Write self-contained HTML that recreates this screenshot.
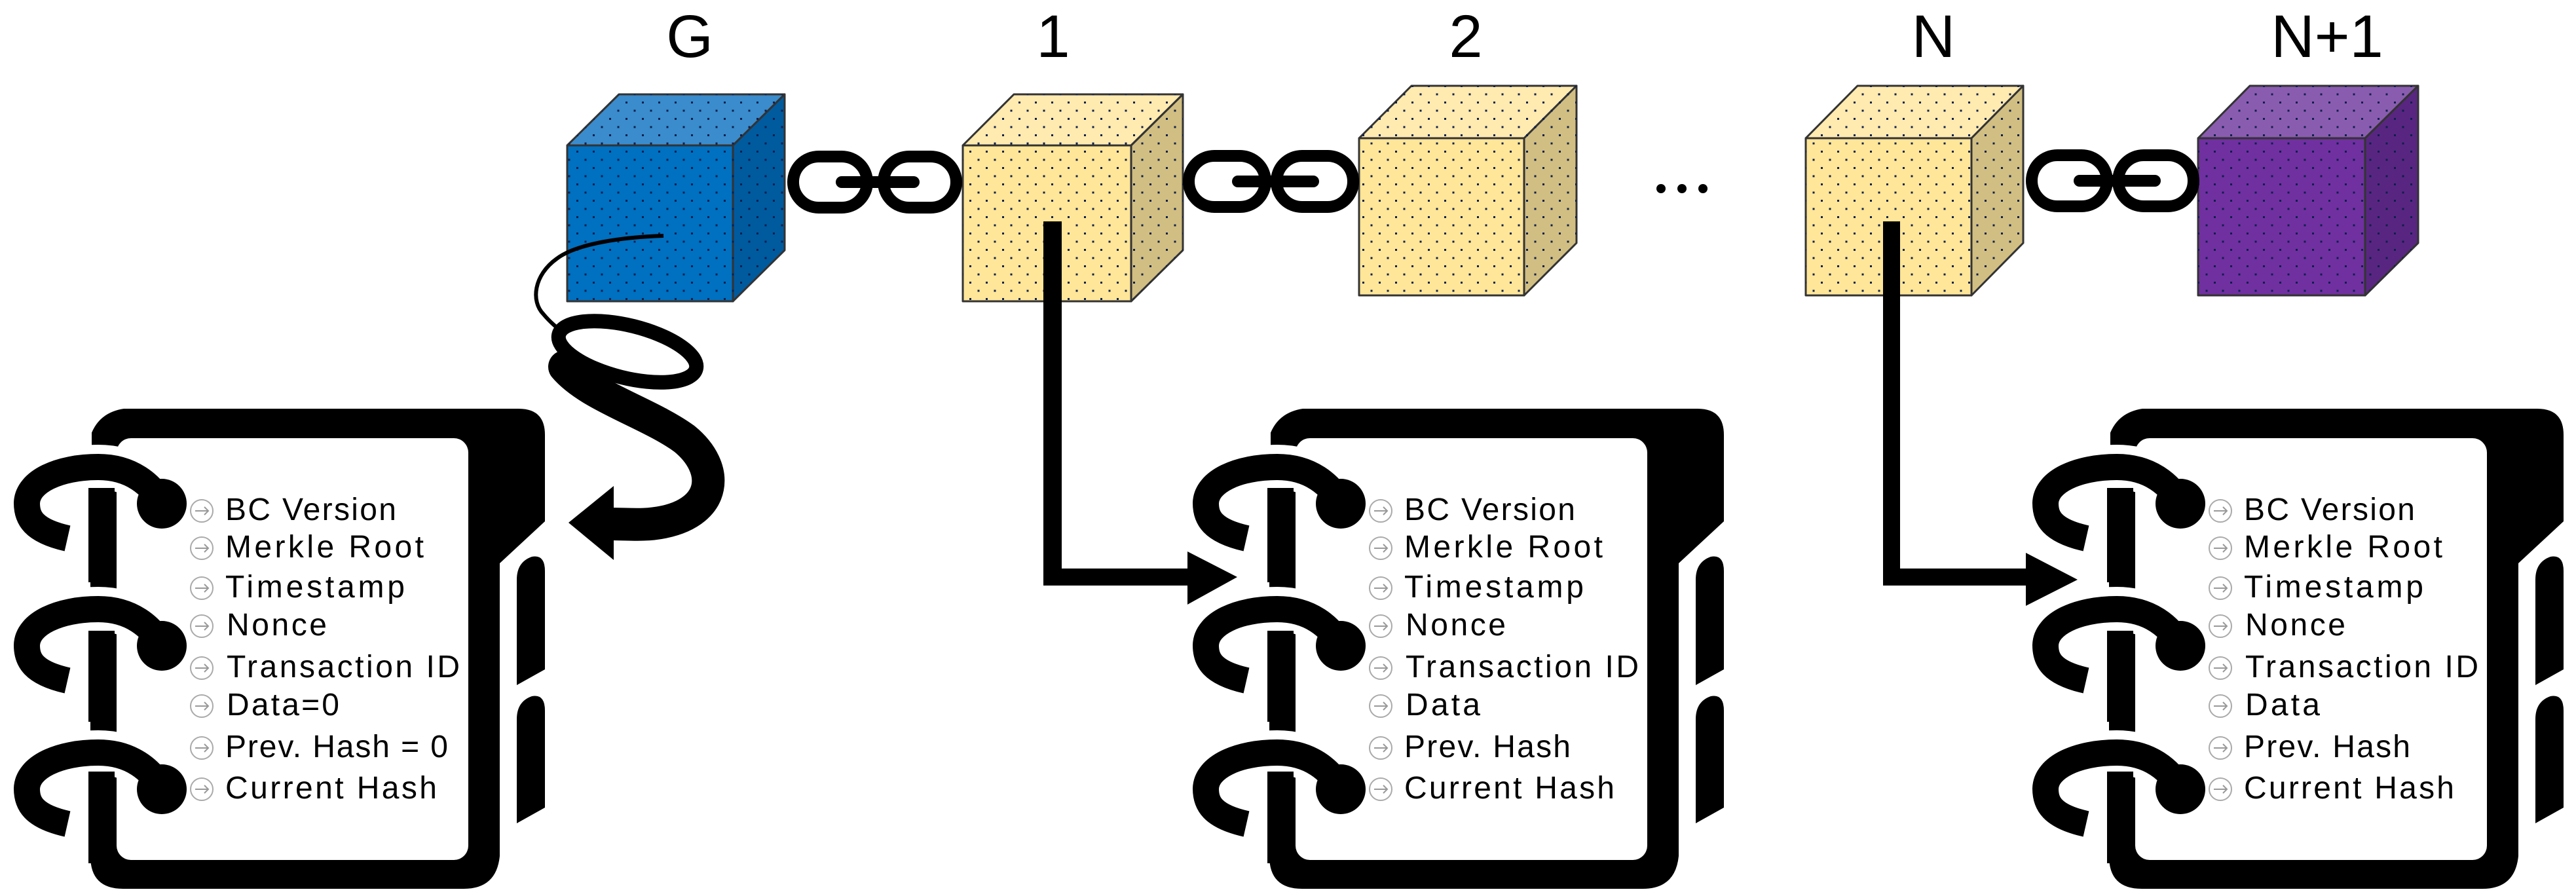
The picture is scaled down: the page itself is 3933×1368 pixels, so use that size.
<!DOCTYPE html>
<html><head><meta charset="utf-8"><style>
html,body{margin:0;padding:0;background:#fff;}
svg{display:block;}
text{font-family:"Liberation Sans",sans-serif;}
</style></head><body>
<svg width="3933" height="1368" viewBox="0 0 3933 1368" xmlns="http://www.w3.org/2000/svg">
<defs>
<pattern id="dots" width="25" height="25" patternUnits="userSpaceOnUse">
<rect x="5" y="5" width="3" height="3" fill="#0d1f4d"/>
<rect x="17.5" y="17.5" width="3" height="3" fill="#0d1f4d"/>
</pattern>
<g id="ring">
<path d="M103 822 C50 810 41 790 41 768 C42 735 90 713 150 713 C200 713 232 740 247 769" fill="none" stroke="#000" stroke-width="40"/>
<circle cx="247" cy="769" r="38" fill="#000"/>
</g>
<g id="ringhalo">
<path d="M103 822 C50 810 41 790 41 768 C42 735 90 713 150 713 C200 713 232 740 247 769" fill="none" stroke="#fff" stroke-width="68"/>
</g>
<g id="nb">
<path d="M189 624 H792 Q832 624 832 664 V796 L763 860 V1307 Q758 1357 708 1357 H188 Q138 1357 138 1307 V666 Q150 630 189 624 Z" fill="#000"/>
<path d="M789 885 Q789 858 812 850 Q832 846 832 872 V1022 L789 1046 Z" fill="#000"/>
<path d="M789 1098 Q789 1071 812 1063 Q832 1059 832 1085 V1233 L789 1257 Z" fill="#000"/>
<rect x="178" y="669" width="537" height="644" rx="22" fill="#fff"/>
<rect x="120" y="650" width="20" height="96" fill="#fff"/>
<use href="#ringhalo"/>
<use href="#ringhalo" transform="translate(0,217)"/>
<use href="#ringhalo" transform="translate(0,436)"/>
<rect x="135" y="745" width="40" height="144" fill="#000"/>
<rect x="135" y="963" width="40" height="139" fill="#000"/>
<rect x="135" y="1178" width="40" height="140" fill="#000"/>
<use href="#ring"/>
<use href="#ring" transform="translate(0,217)"/>
<use href="#ring" transform="translate(0,436)"/>
</g>
<g id="icons">
<g fill="none" stroke="#aaa" stroke-width="2">
<circle cx="308" cy="780" r="17"/><circle cx="308" cy="837" r="17"/><circle cx="308" cy="898" r="17"/><circle cx="308" cy="956" r="17"/>
<circle cx="308" cy="1020" r="17"/><circle cx="308" cy="1078" r="17"/><circle cx="308" cy="1142" r="17"/><circle cx="308" cy="1205" r="17"/>
</g>
<g stroke="#999" stroke-width="2" fill="none">
<path d="M298 780h20m-6-6l6 6-6 6"/><path d="M298 837h20m-6-6l6 6-6 6"/><path d="M298 898h20m-6-6l6 6-6 6"/><path d="M298 956h20m-6-6l6 6-6 6"/>
<path d="M298 1020h20m-6-6l6 6-6 6"/><path d="M298 1078h20m-6-6l6 6-6 6"/><path d="M298 1142h20m-6-6l6 6-6 6"/><path d="M298 1205h20m-6-6l6 6-6 6"/>
</g>
</g>
</defs>

<g font-size="92" fill="#000" text-anchor="middle">
<text x="1053" y="87">G</text>
<text x="1608" y="87">1</text>
<text x="2238" y="87">2</text>
<text x="2952" y="87">N</text>
<text x="3553" y="87">N+1</text>
</g>

<g stroke="#333" stroke-width="3" stroke-linejoin="round">
<polygon points="866,222 945,144 1198,144 1119,222" fill="#3a8ccc"/>
<polygon points="1119,222 1198,144 1198,382 1119,460" fill="#005a9e"/>
<rect x="866" y="222" width="253" height="238" fill="#0070c0"/>
<polygon points="1470,222 1548,144 1806,144 1727,222" fill="#ffeab0"/>
<polygon points="1727,222 1806,144 1806,382 1727,460" fill="#d1be82"/>
<rect x="1470" y="222" width="257" height="238" fill="#ffe699"/>
<polygon points="2075,211 2155,131 2407,131 2327,211" fill="#ffeab0"/>
<polygon points="2327,211 2407,131 2407,371 2327,451" fill="#d1be82"/>
<rect x="2075" y="211" width="252" height="240" fill="#ffe699"/>
<polygon points="2757,211 2836,131 3089,131 3010,211" fill="#ffeab0"/>
<polygon points="3010,211 3089,131 3089,371 3010,451" fill="#d1be82"/>
<rect x="2757" y="211" width="253" height="240" fill="#ffe699"/>
<polygon points="3356,211 3435,131 3692,131 3611,211" fill="#8a5cb0"/>
<polygon points="3611,211 3692,131 3692,371 3611,451" fill="#582680"/>
<rect x="3356" y="211" width="255" height="240" fill="#7030a0"/>
</g>
<g fill="url(#dots)">
<polygon points="866,222 945,144 1198,144 1119,222"/><polygon points="1119,222 1198,144 1198,382 1119,460"/><rect x="866" y="222" width="253" height="238"/>
<polygon points="1470,222 1548,144 1806,144 1727,222"/><polygon points="1727,222 1806,144 1806,382 1727,460"/><rect x="1470" y="222" width="257" height="238"/>
<polygon points="2075,211 2155,131 2407,131 2327,211"/><polygon points="2327,211 2407,131 2407,371 2327,451"/><rect x="2075" y="211" width="252" height="240"/>
<polygon points="2757,211 2836,131 3089,131 3010,211"/><polygon points="3010,211 3089,131 3089,371 3010,451"/><rect x="2757" y="211" width="253" height="240"/>
<polygon points="3356,211 3435,131 3692,131 3611,211"/><polygon points="3611,211 3692,131 3692,371 3611,451"/><rect x="3356" y="211" width="255" height="240"/>
</g>

<g fill="none" stroke="#000" stroke-width="18" stroke-linecap="round">
<rect x="1211" y="239" width="113" height="78" rx="39"/>
<rect x="1349" y="239" width="111" height="78" rx="39"/>
<line x1="1285" y1="278" x2="1395" y2="278"/>
<rect x="1815" y="238" width="117" height="78" rx="39"/>
<rect x="1949" y="238" width="117" height="78" rx="39"/>
<line x1="1890" y1="277" x2="2005" y2="277"/>
<rect x="3102" y="237" width="115" height="78" rx="39"/>
<rect x="3234" y="237" width="115" height="78" rx="39"/>
<line x1="3175" y1="276" x2="3290" y2="276"/>
</g>

<circle cx="2536" cy="288" r="7"/><circle cx="2568" cy="288" r="7"/><circle cx="2600" cy="288" r="7"/>

<use href="#nb"/>
<use href="#nb" transform="translate(1800,0)"/>
<use href="#nb" transform="translate(3082,0)"/>
<use href="#icons"/>
<use href="#icons" transform="translate(1800,0)"/>
<use href="#icons" transform="translate(3082,0)"/>

<g font-size="48" fill="#000">
<text x="344" y="794" textLength="261">BC Version</text>
<text x="344" y="851" textLength="303">Merkle Root</text>
<text x="344" y="912" textLength="274">Timestamp</text>
<text x="346" y="970" textLength="153">Nonce</text>
<text x="346" y="1034" textLength="356">Transaction ID</text>
<text x="346" y="1092" textLength="172">Data=0</text>
<text x="344" y="1156" textLength="340">Prev. Hash = 0</text>
<text x="344" y="1219" textLength="323">Current Hash</text>
</g>
<g font-size="48" fill="#000" transform="translate(1800,0)">
<text x="344" y="794" textLength="261">BC Version</text>
<text x="344" y="851" textLength="303">Merkle Root</text>
<text x="344" y="912" textLength="274">Timestamp</text>
<text x="346" y="970" textLength="153">Nonce</text>
<text x="346" y="1034" textLength="356">Transaction ID</text>
<text x="346" y="1092" textLength="114">Data</text>
<text x="344" y="1156" textLength="254">Prev. Hash</text>
<text x="344" y="1219" textLength="321">Current Hash</text>
</g>
<g font-size="48" fill="#000" transform="translate(3082,0)">
<text x="344" y="794" textLength="261">BC Version</text>
<text x="344" y="851" textLength="303">Merkle Root</text>
<text x="344" y="912" textLength="274">Timestamp</text>
<text x="346" y="970" textLength="153">Nonce</text>
<text x="346" y="1034" textLength="356">Transaction ID</text>
<text x="346" y="1092" textLength="114">Data</text>
<text x="344" y="1156" textLength="254">Prev. Hash</text>
<text x="344" y="1219" textLength="321">Current Hash</text>
</g>

<rect x="1593" y="338" width="28" height="556" fill="#000"/>
<rect x="1593" y="868" width="225" height="26" fill="#000"/>
<polygon points="1813,842 1889,881 1813,923" fill="#000"/>
<rect x="2875" y="338" width="26" height="556" fill="#000"/>
<rect x="2875" y="868" width="223" height="26" fill="#000"/>
<polygon points="3093,844 3172,885 3093,925" fill="#000"/>

<path d="M1013 360 C950 362 880 372 850 395 C815 420 810 460 830 480 C840 492 850 500 860 508" fill="none" stroke="#000" stroke-width="6"/>
<ellipse cx="958" cy="537" rx="108" ry="40" transform="rotate(14 958 537)" fill="none" stroke="#000" stroke-width="22"/>
<path d="M862 560 C900 605 990 630 1045 670 C1100 715 1095 780 1013 797 C985 803 960 800 930 800" fill="none" stroke="#000" stroke-width="50" stroke-linecap="round"/>
<polygon points="868,798 937,742 937,855" fill="#000"/>
</svg>
</body></html>
